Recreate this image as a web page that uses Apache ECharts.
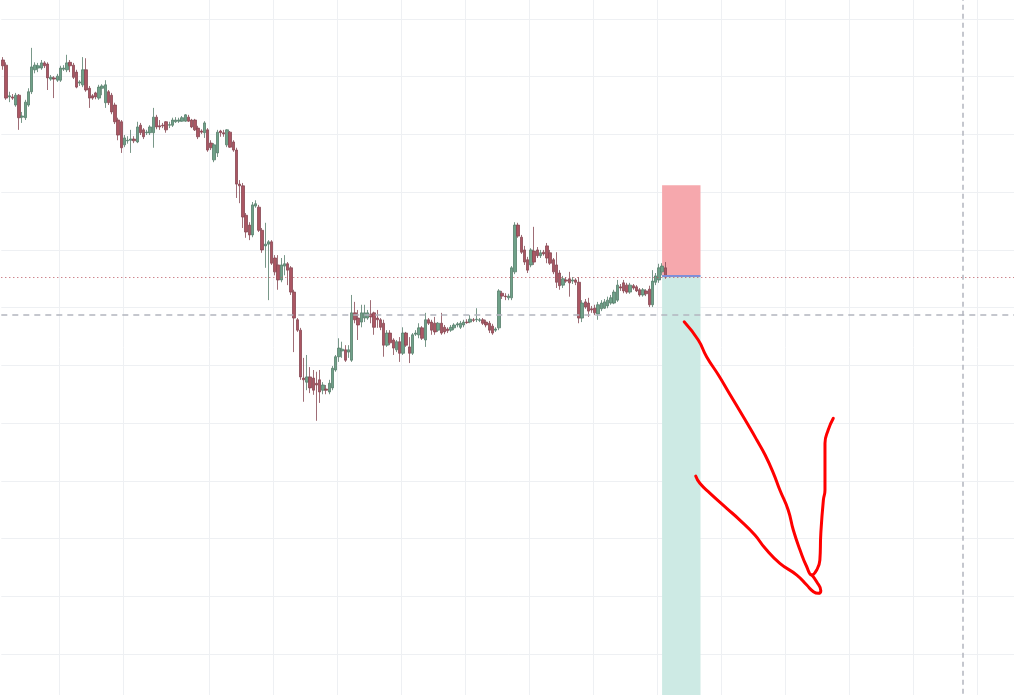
<!DOCTYPE html>
<html>
<head>
<meta charset="utf-8">
<title>chart</title>
<script src="https://cdn.jsdelivr.net/npm/echarts@6.0.0/dist/echarts.min.js"></script>
<style>
    html, body { margin: 0; padding: 0; background: #ffffff; }
    #chart { width: 1014px; height: 695px; }
</style>
</head>
<body>
<div id="chart"></div>
<script>
// candle values, one entry per bar
var opens = [
    112.9, 112.0, 106.5, 106.5, 105.1, 106.8, 103.0, 102.9, 105.1, 107.4,
    111.2, 111.5, 111.5, 112.4, 112.2, 109.6, 109.8, 109.4, 109.4, 111.3,
    111.2, 112.5, 112.0, 110.8, 108.9, 108.6, 111.2, 108.0, 106.7, 107.2,
    106.3, 108.0, 105.5, 107.4, 106.8, 105.1, 102.5, 102.2, 98.2, 98.9,
    99.0, 99.2, 98.7, 101.6, 100.8, 100.3, 100.3, 100.3, 103.0, 101.5,
    101.6, 102.2, 101.6, 101.6, 102.2, 102.3, 102.3, 102.3, 103.0, 102.5,
    102.5, 101.1, 100.6, 100.3, 100.8, 98.5, 95.6, 96.8, 100.6, 100.3,
    98.2, 100.4, 98.7, 97.3, 91.4, 91.1, 86.0, 84.3, 82.6, 87.6,
    87.4, 83.4, 80.7, 81.0, 81.4, 78.6, 77.4, 74.8, 77.2, 77.6,
    76.9, 72.7, 67.9, 66.1, 57.8, 57.1, 58.0, 57.8, 56.9, 57.5,
    55.7, 55.9, 55.4, 56.1, 59.2, 61.5, 62.5, 62.7, 62.3, 60.9,
    69.1, 68.2, 67.5, 68.2, 68.2, 68.9, 69.1, 68.2, 67.9, 67.3,
    63.5, 65.6, 64.4, 62.7, 64.1, 62.1, 65.6, 63.2, 62.1, 65.4,
    65.3, 66.5, 64.4, 67.9, 67.5, 67.3, 66.1, 67.3, 66.6, 66.3,
    66.1, 66.5, 67.0, 66.6, 67.0, 67.5, 67.5, 67.9, 67.9, 67.8,
    67.9, 67.5, 67.3, 66.8, 66.1, 66.5, 72.5, 72.0, 71.7, 71.7,
    76.2, 84.3, 82.2, 80.0, 78.3, 77.4, 79.8, 80.0, 79.0, 79.6,
    80.7, 79.5, 78.3, 77.4, 76.0, 73.9, 74.8, 75.0, 74.6, 74.8,
    74.4, 68.2, 71.0, 70.8, 69.8, 69.9, 68.9, 69.8, 69.9, 70.3,
    70.8, 70.8, 71.3, 73.6, 74.3, 73.9, 72.7, 73.8, 73.6, 73.1,
    72.2, 72.9, 73.2, 70.5, 74.4, 74.8, 76.2, 76.9
];
var closes = [
    111.9, 106.3, 106.7, 106.3, 106.8, 102.9, 103.2, 105.6, 107.4, 111.7,
    112.0, 111.9, 112.4, 111.9, 109.8, 109.9, 109.6, 110.1, 111.5, 111.5,
    112.4, 111.9, 109.9, 108.2, 109.1, 111.2, 107.7, 106.3, 106.3, 106.5,
    108.2, 108.4, 108.6, 105.5, 103.9, 102.2, 99.9, 97.7, 99.4, 99.0,
    99.2, 98.9, 101.3, 100.3, 99.6, 100.4, 101.3, 103.0, 101.3, 101.3,
    101.5, 100.8, 101.7, 102.5, 102.5, 102.5, 102.9, 103.4, 102.3, 101.3,
    100.8, 99.6, 100.4, 102.0, 97.3, 97.7, 98.2, 100.4, 100.3, 100.1,
    100.8, 97.8, 97.3, 91.4, 91.1, 85.7, 83.1, 82.6, 87.8, 88.0,
    83.4, 80.0, 81.0, 81.4, 77.7, 76.2, 74.8, 77.4, 77.6, 76.5,
    72.7, 68.2, 66.1, 58.0, 57.5, 58.0, 56.1, 55.7, 56.6, 55.4,
    56.6, 55.7, 56.9, 59.5, 61.5, 63.0, 62.8, 60.9, 62.7, 69.1,
    67.9, 67.0, 69.1, 69.1, 69.1, 68.4, 66.6, 67.9, 66.6, 63.5,
    65.6, 63.9, 63.0, 64.1, 62.1, 65.6, 63.5, 62.1, 65.3, 65.6,
    66.5, 64.7, 67.9, 67.3, 66.1, 65.8, 67.3, 65.6, 65.8, 66.0,
    66.6, 67.0, 67.2, 67.3, 67.5, 67.4, 68.0, 67.8, 68.0, 67.9,
    67.3, 67.0, 66.1, 65.6, 66.3, 72.9, 72.0, 71.9, 72.0, 76.9,
    84.3, 82.4, 79.6, 77.9, 76.5, 80.0, 77.9, 79.0, 79.5, 79.3,
    78.6, 77.7, 76.2, 74.4, 73.8, 75.0, 74.6, 74.3, 74.8, 74.4,
    68.2, 70.8, 70.1, 69.4, 69.6, 69.1, 70.5, 70.8, 71.0, 71.3,
    71.7, 72.7, 73.9, 73.4, 72.9, 72.7, 73.9, 73.4, 72.9, 72.2,
    73.1, 72.4, 70.5, 74.6, 75.5, 76.9, 77.2, 75.3
];
var highs = [
    113.4, 112.5, 107.4, 107.0, 107.2, 107.0, 103.9, 106.0, 108.0, 115.0,
    112.5, 112.4, 112.9, 112.7, 112.5, 110.3, 110.1, 110.5, 111.9, 112.0,
    113.8, 112.9, 112.4, 111.2, 109.4, 113.4, 113.2, 108.4, 107.0, 107.4,
    108.6, 108.7, 109.4, 107.7, 107.2, 105.5, 102.9, 102.5, 99.9, 99.7,
    100.8, 99.7, 102.2, 102.0, 101.1, 100.8, 101.6, 104.6, 103.4, 102.5,
    102.0, 102.3, 102.2, 102.9, 103.0, 102.9, 103.2, 103.5, 103.4, 102.7,
    102.7, 101.5, 100.9, 102.3, 101.1, 99.0, 98.5, 100.8, 100.8, 100.8,
    100.9, 100.6, 99.0, 97.7, 92.1, 91.6, 86.4, 84.8, 88.3, 88.6,
    87.8, 83.8, 84.7, 81.7, 81.7, 79.1, 79.1, 78.6, 79.1, 77.9,
    77.2, 73.1, 68.2, 66.5, 61.3, 61.8, 59.7, 59.2, 58.9, 59.2,
    57.1, 56.6, 57.5, 59.9, 61.8, 64.7, 64.1, 63.5, 63.5, 72.2,
    71.0, 69.6, 70.5, 70.5, 69.6, 71.3, 69.3, 69.6, 68.2, 67.9,
    66.1, 66.1, 64.7, 64.4, 64.9, 66.6, 65.8, 64.9, 65.6, 66.1,
    67.3, 66.8, 69.1, 68.2, 67.9, 68.4, 67.5, 69.1, 67.0, 66.6,
    67.0, 67.3, 67.5, 67.7, 67.9, 68.0, 68.7, 68.2, 69.9, 68.2,
    68.2, 67.9, 67.7, 67.2, 66.6, 73.2, 72.9, 72.5, 72.4, 77.2,
    84.8, 84.7, 82.6, 80.7, 78.8, 80.3, 84.0, 80.5, 80.0, 80.0,
    81.2, 80.0, 78.6, 79.6, 76.5, 75.5, 75.3, 76.2, 75.3, 75.1,
    75.3, 71.3, 71.5, 71.7, 70.3, 70.5, 71.0, 71.3, 71.5, 71.9,
    72.2, 73.1, 74.8, 74.1, 74.8, 74.3, 74.3, 74.1, 73.9, 73.4,
    73.4, 73.2, 73.8, 76.5, 76.0, 77.6, 77.7, 77.9
];
var lows = [
    111.2, 106.0, 105.6, 106.0, 104.8, 100.8, 102.0, 102.5, 104.8, 107.0,
    110.6, 110.8, 111.2, 111.5, 107.7, 109.3, 106.3, 109.1, 109.1, 111.0,
    110.8, 110.8, 109.6, 108.0, 108.4, 108.2, 107.4, 104.6, 106.0, 106.1,
    106.0, 106.8, 104.6, 105.1, 103.5, 101.8, 99.0, 96.8, 97.8, 98.4,
    96.8, 98.5, 98.5, 99.9, 99.2, 99.9, 99.9, 97.7, 100.9, 100.8,
    101.1, 100.3, 101.1, 101.3, 102.0, 102.0, 102.2, 102.2, 102.2, 101.1,
    100.6, 99.2, 100.1, 99.4, 97.0, 97.3, 95.2, 96.1, 99.6, 99.6,
    97.8, 97.7, 97.0, 89.0, 88.1, 83.8, 82.1, 81.7, 82.2, 87.3,
    83.1, 79.5, 76.9, 71.3, 77.4, 75.6, 73.1, 74.4, 75.6, 73.9,
    72.2, 62.3, 65.8, 57.5, 53.7, 55.7, 55.2, 54.9, 50.4, 53.5,
    55.0, 55.0, 55.0, 55.7, 58.9, 60.6, 61.3, 60.6, 61.3, 60.6,
    67.3, 64.4, 66.6, 67.5, 67.9, 67.3, 65.3, 66.5, 66.1, 61.5,
    63.2, 63.5, 61.8, 62.3, 60.6, 61.8, 63.2, 60.4, 61.8, 65.1,
    64.7, 64.4, 63.2, 67.0, 65.3, 65.3, 65.8, 65.3, 65.4, 65.6,
    65.8, 66.1, 66.6, 66.3, 66.6, 67.2, 67.3, 67.5, 67.5, 67.5,
    67.0, 66.6, 65.6, 65.3, 65.8, 66.1, 71.5, 71.3, 71.3, 71.3,
    75.8, 82.1, 79.3, 77.4, 76.0, 77.0, 77.4, 78.6, 78.6, 79.0,
    77.7, 77.4, 75.8, 73.4, 73.1, 73.4, 74.3, 71.9, 74.1, 73.9,
    67.3, 67.5, 69.8, 68.4, 69.1, 68.7, 67.9, 69.4, 69.8, 69.9,
    70.5, 70.6, 71.0, 72.9, 72.5, 72.4, 72.4, 73.1, 72.7, 71.9,
    71.9, 72.0, 70.1, 70.1, 73.9, 74.3, 75.6, 75.0
];

// bars shown on the time axis (candles + empty space on the right)
var barCount = 317;
// bar indices where the vertical grid lines fall
var gridBreaks = [18, 38, 65, 85, 105, 125, 145, 165, 185, 205, 225, 245, 265, 285, 305];

// short position tool: start bar, end bar, stop, entry, target
var posStart = 206, posEnd = 218;
var stopPrice = 91.2, entryPrice = 75.6, targetPrice = 0;
var crossPrice = 68.7, crossBar = 300;

// hand drawn arrow, [bar, price]
var arrowShaft = [
    [212.9, 67.56], [217.3, 64.39], [219.9, 61.50], [223.6, 58.33], [226.7, 55.44],
    [229.8, 52.56], [233.5, 49.10], [235.6, 47.07], [238.2, 44.47], [240.8, 41.30],
    [242.8, 38.41], [245.4, 34.95], [247.0, 31.48], [249.1, 28.02], [251.2, 25.12],
    [252.8, 23.69], [254.3, 24.55], [255.3, 26.28], [255.6, 30.91], [256.4, 36.68],
    [256.9, 38.41], [256.9, 46.50], [257.9, 48.80], [259.5, 50.83]
];
var arrowHead = [
    [216.5, 40.83], [217.8, 39.57], [221.0, 37.84], [226.2, 35.24], [230.3, 33.21],
    [235.0, 30.62], [238.2, 28.31], [242.8, 25.71], [248.1, 23.68], [251.2, 21.95],
    [253.3, 20.79], [254.8, 20.51], [255.6, 20.97], [254.3, 22.52], [252.8, 23.69]
];

function drawChart() {
    var myChart = echarts.init(document.getElementById("chart"), null, { renderer: 'canvas' });
    var bars = [],
        candles = [];

    for (var i = 0; i < barCount; i++) {
        bars.push(String(i));
    }
    opens.forEach(function(o, i) {
        candles.push([o, closes[i], lows[i], highs[i]]);
    });

    var option = {
        animation: false,
        backgroundColor: '#ffffff',
        grid: {
            left: 1.3,
            top: -38.73,
            width: 1014.4,
            height: 750.5,
            outerBoundsMode: 'none',
            containLabel: false
        },
        xAxis: [{
            type: 'category',
            data: bars,
            boundaryGap: true,
            axisLine: { show: false },
            axisTick: { show: false },
            axisLabel: { show: false },
            splitLine: {
                show: true,
                interval: function(index) {
                    return gridBreaks.indexOf(index) >= 0;
                },
                lineStyle: { color: '#eef0f3', width: 1 }
            }
        }, {
            type: 'value',
            min: -0.5,
            max: barCount - 0.5,
            show: false
        }],
        yAxis: {
            type: 'value',
            min: 0,
            max: 130,
            interval: 10,
            axisLine: { show: false },
            axisTick: { show: false },
            axisLabel: { show: false },
            splitLine: { lineStyle: { color: '#eef0f3', width: 1 } }
        },
        series: [{
            name: 'price',
            type: 'candlestick',
            data: candles,
            barWidth: 3,
            barMinWidth: 3,
            z: 3,
            itemStyle: {
                color: '#6fa189',
                color0: '#ab5663',
                borderColor: '#577d6b',
                borderColor0: '#874853',
                borderWidth: 0.8
            },
            markArea: {
                silent: true,
                z: 1,
                data: [
                    [{ xAxis: posStart, yAxis: stopPrice, itemStyle: { color: '#f6a8ad' } },
                     { xAxis: posEnd, yAxis: entryPrice }],
                    [{ xAxis: posStart, yAxis: entryPrice, itemStyle: { color: '#cdeae4' } },
                     { xAxis: posEnd, yAxis: targetPrice }]
                ]
            },
            markLine: {
                silent: true,
                symbol: ['none', 'none'],
                label: { show: false },
                data: [
                    { yAxis: closes[closes.length - 1],
                      lineStyle: { color: '#b8505c', type: [1, 3], width: 1 } },
                    { yAxis: crossPrice,
                      lineStyle: { color: '#b2b5be', type: [6, 5], width: 1.5 } },
                    { xAxis: crossBar,
                      lineStyle: { color: '#b2b5be', type: [5, 4], width: 1.5 } },
                    [{ coord: [posStart, entryPrice], lineStyle: { color: '#7e8fd8', type: 'solid', width: 2 } },
                     { coord: [posEnd, entryPrice] }]
                ]
            }
        }, {
            name: 'arrow',
            type: 'line',
            xAxisIndex: 1,
            data: arrowShaft,
            smooth: 0.5,
            symbol: 'none',
            z: 5,
            lineStyle: { color: '#ff0000', width: 3, cap: 'round', join: 'round' }
        }, {
            name: 'arrowHead',
            type: 'line',
            xAxisIndex: 1,
            data: arrowHead,
            smooth: 0.5,
            symbol: 'none',
            z: 5,
            lineStyle: { color: '#ff0000', width: 3, cap: 'round', join: 'round' }
        }]
    };
    myChart.setOption(option);
}

drawChart();
</script>
</body>
</html>
